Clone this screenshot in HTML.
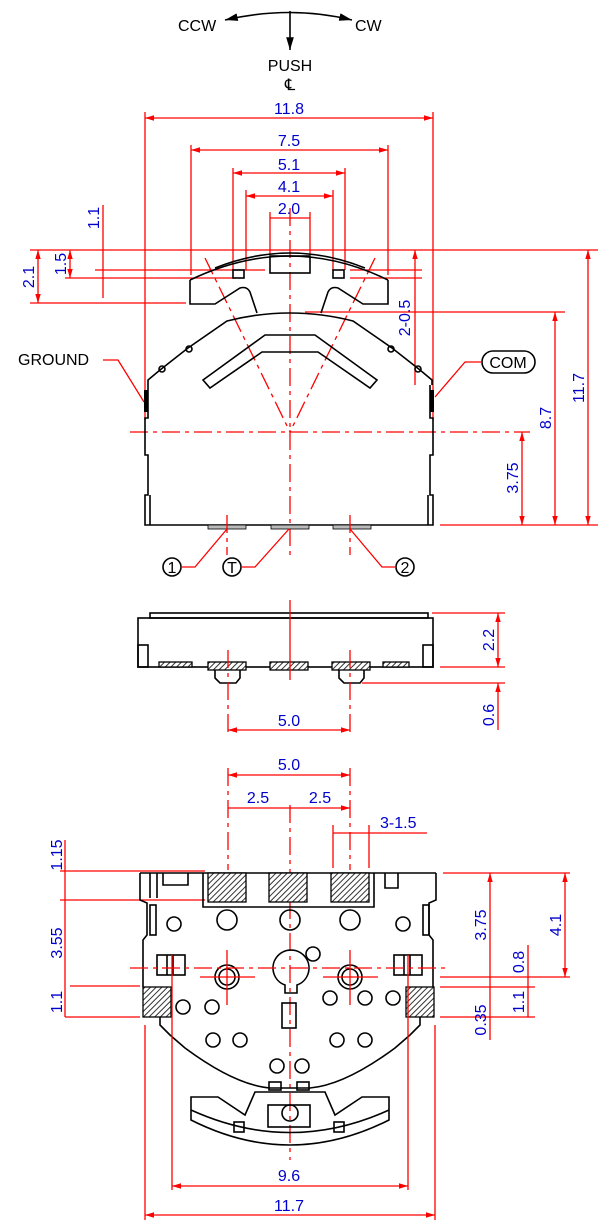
<!DOCTYPE html>
<html><head><meta charset="utf-8"><style>
html,body{margin:0;padding:0;background:#fff;}
svg{display:block;font-family:"Liberation Sans",sans-serif;}
.r{stroke:#f00;stroke-width:1.3;fill:none}
.rd{stroke:#f00;stroke-width:1.3;fill:none;stroke-dasharray:18 5 4 5}
.k{stroke:#000;stroke-width:1.6;fill:none}
.b{fill:#00c;font-size:16px}
.t{fill:#000;font-size:16px}
.h{fill:url(#hat);stroke:#000;stroke-width:1.3}
</style></head><body>
<svg width="600" height="1223" viewBox="0 0 600 1223" xmlns="http://www.w3.org/2000/svg">
<defs>
<pattern id="hat" width="4" height="4" patternUnits="userSpaceOnUse" patternTransform="rotate(45)"><rect width="4" height="4" fill="#fff"/><line x1="0" y1="0" x2="0" y2="4" stroke="#333" stroke-width="2"/></pattern>
<marker id="a" viewBox="0 0 10 10" refX="10" refY="5" markerWidth="7" markerHeight="7" orient="auto-start-reverse"><path d="M0,2L10,5L0,8z" fill="#f00"/></marker>
<marker id="ak" viewBox="0 0 10 10" refX="10" refY="5" markerWidth="8" markerHeight="8" orient="auto-start-reverse"><path d="M0,2L10,5L0,8z" fill="#000"/></marker>
</defs>

<path d="M225,20 Q290,5 352,20" class="k" marker-start="url(#ak)" marker-end="url(#ak)"/>
<line x1="290" y1="11" x2="290" y2="50" class="k" marker-end="url(#ak)"/>
<text x="178" y="31" class="t">CCW</text>
<text x="355" y="31" class="t">CW</text>
<text x="290" y="71" class="t" text-anchor="middle">PUSH</text>
<text x="290" y="90" class="t" text-anchor="middle">℄</text>

<text x="289" y="114" class="b" text-anchor="middle">11.8</text>
<line x1="145" y1="118" x2="433" y2="118" class="r" marker-start="url(#a)" marker-end="url(#a)"/>
<line x1="145" y1="112" x2="145" y2="420" class="r"/><line x1="433" y1="112" x2="433" y2="420" class="r"/>
<text x="289" y="146" class="b" text-anchor="middle">7.5</text>
<line x1="191" y1="150" x2="388" y2="150" class="r" marker-start="url(#a)" marker-end="url(#a)"/>
<line x1="191" y1="145" x2="191" y2="275" class="r"/><line x1="388" y1="145" x2="388" y2="275" class="r"/>
<text x="289" y="170" class="b" text-anchor="middle">5.1</text>
<line x1="233" y1="173" x2="345" y2="173" class="r" marker-start="url(#a)" marker-end="url(#a)"/>
<line x1="233" y1="168" x2="233" y2="270" class="r"/><line x1="345" y1="168" x2="345" y2="270" class="r"/>
<text x="289" y="192" class="b" text-anchor="middle">4.1</text>
<line x1="246" y1="196" x2="333" y2="196" class="r" marker-start="url(#a)" marker-end="url(#a)"/>
<line x1="246" y1="190" x2="246" y2="270" class="r"/><line x1="333" y1="190" x2="333" y2="270" class="r"/>
<text x="289" y="214" class="b" text-anchor="middle">2.0</text>
<line x1="270" y1="218" x2="310" y2="218" class="r"/>
<line x1="270" y1="212" x2="270" y2="255" class="r"/><line x1="310" y1="212" x2="310" y2="255" class="r"/>
<line x1="290" y1="208" x2="290" y2="560" class="rd"/>

<line x1="30" y1="250" x2="598" y2="250" class="r"/>
<line x1="95" y1="270" x2="265" y2="270" class="r"/><line x1="350" y1="270" x2="422" y2="270" class="r"/>
<line x1="65" y1="278" x2="235" y2="278" class="r"/><line x1="350" y1="278" x2="422" y2="278" class="r"/>
<line x1="30" y1="303" x2="186" y2="303" class="r"/>
<line x1="38" y1="250" x2="38" y2="303" class="r" marker-start="url(#a)" marker-end="url(#a)"/>
<text transform="translate(34,277) rotate(-90)" class="b" text-anchor="middle">2.1</text>
<line x1="70" y1="250" x2="70" y2="278" class="r" marker-start="url(#a)" marker-end="url(#a)"/>
<text transform="translate(66,264) rotate(-90)" class="b" text-anchor="middle">1.5</text>
<line x1="103" y1="205" x2="103" y2="298" class="r"/>
<text transform="translate(99,218) rotate(-90)" class="b" text-anchor="middle">1.1</text>
<line x1="415" y1="250" x2="415" y2="385" class="r" marker-start="url(#a)"/>
<text transform="translate(410,318) rotate(-90)" class="b" text-anchor="middle">2-0.5</text>
<line x1="305" y1="312" x2="565" y2="312" class="r"/>
<line x1="555" y1="312" x2="555" y2="525" class="r" marker-start="url(#a)" marker-end="url(#a)"/>
<text transform="translate(551,418) rotate(-90)" class="b" text-anchor="middle">8.7</text>
<line x1="588" y1="250" x2="588" y2="525" class="r" marker-start="url(#a)" marker-end="url(#a)"/>
<text transform="translate(584,388) rotate(-90)" class="b" text-anchor="middle">11.7</text>
<line x1="522" y1="432" x2="522" y2="525" class="r" marker-start="url(#a)" marker-end="url(#a)"/>
<text transform="translate(518,478) rotate(-90)" class="b" text-anchor="middle">3.75</text>
<line x1="440" y1="525" x2="598" y2="525" class="r"/>
<line x1="130" y1="432" x2="530" y2="432" class="rd"/>
<line x1="205" y1="258" x2="290" y2="432" class="rd"/><line x1="375" y1="258" x2="290" y2="432" class="rd"/>

<path d="M190,280 Q290,232 388,280" class="k"/>
<path d="M215,268 Q290,238 365,268" class="k"/>
<path d="M190,280 L190,304 L215,304 L240,288 Q247,286 250,292 L257,313" class="k"/>
<path d="M388,280 L388,304 L363,304 L338,288 Q331,286 328,292 L321,313" class="k"/>
<rect x="270" y="256" width="40" height="17" class="k"/>
<rect x="233" y="270" width="11" height="8" class="k"/><rect x="333" y="270" width="11" height="8" class="k"/>
<path d="M148,385 L148,380 L160,370 L188,348 L227,321 Q290,305 353,321 L392,348 L420,370 L432,380 L432,385" class="k"/>
<circle cx="189" cy="349" r="3" class="k"/><circle cx="162" cy="369" r="3" class="k"/>
<circle cx="391" cy="349" r="3" class="k"/><circle cx="418" cy="369" r="3" class="k"/>
<path d="M203,380 L265,335 L315,335 L377,380 L370,388 L318,352 L262,352 L210,388 Z" class="k"/>
<path d="M148,385 L148,418 L145,418 L145,455 L148,455 L148,495 L145,495 L145,525 L433,525 L433,495 L430,495 L430,455 L433,455 L433,418 L430,418 L430,385" class="k"/>
<rect x="144" y="390" width="4" height="22" fill="#000"/><rect x="430" y="390" width="4" height="22" fill="#000"/>
<line x1="150" y1="495" x2="150" y2="525" class="k"/><line x1="428" y1="495" x2="428" y2="525" class="k"/>
<rect x="208" y="525" width="38" height="4" fill="#bbb" stroke="#000" stroke-width="0.8"/>
<rect x="271" y="525" width="38" height="4" fill="#bbb" stroke="#000" stroke-width="0.8"/>
<rect x="333" y="525" width="38" height="4" fill="#bbb" stroke="#000" stroke-width="0.8"/>
<line x1="227" y1="515" x2="227" y2="555" class="rd"/><line x1="350" y1="515" x2="350" y2="555" class="rd"/>
<text x="18" y="365" class="t">GROUND</text>
<path d="M103,360 L118,360 L144,402" class="r"/>
<rect x="482" y="351" width="53" height="22" rx="11" class="k"/>
<text x="508" y="368" class="t" text-anchor="middle">COM</text>
<path d="M482,362 L465,362 L435,397" class="r"/>
<circle cx="172" cy="567" r="9" class="k"/><text x="172" y="573" class="t" text-anchor="middle" font-size="14">1</text>
<circle cx="232" cy="567" r="9" class="k"/><text x="232" y="573" class="t" text-anchor="middle" font-size="14">T</text>
<circle cx="405" cy="567" r="9" class="k"/><text x="405" y="573" class="t" text-anchor="middle" font-size="14">2</text>
<path d="M181,567 L195,567 L227,529" class="r"/>
<path d="M241,567 L255,567 L289,529" class="r"/>
<path d="M396,567 L382,567 L350,529" class="r"/>

<rect x="150" y="613" width="278" height="5" class="k"/>
<rect x="138" y="618" width="295" height="49" class="k"/>
<rect x="138" y="645" width="10" height="22" class="k"/><rect x="423" y="645" width="10" height="22" class="k"/>
<rect x="159" y="662" width="33" height="5" class="h"/>
<rect x="208" y="662" width="38" height="8" class="h"/>
<rect x="270" y="662" width="38" height="8" class="h"/>
<rect x="332" y="662" width="38" height="8" class="h"/>
<rect x="383" y="662" width="26" height="5" class="h"/>
<path d="M215,670 L215,678 L220,683 L236,683 L240,678 L240,670" class="k"/>
<path d="M339,670 L339,678 L344,683 L360,683 L364,678 L364,670" class="k"/>
<line x1="290" y1="600" x2="290" y2="680" class="r"/>
<line x1="228" y1="650" x2="228" y2="735" class="rd"/><line x1="350" y1="650" x2="350" y2="735" class="rd"/>
<text x="289" y="726" class="b" text-anchor="middle">5.0</text>
<line x1="228" y1="730" x2="350" y2="730" class="r" marker-start="url(#a)" marker-end="url(#a)"/>
<line x1="432" y1="613" x2="505" y2="613" class="r"/>
<line x1="440" y1="667" x2="505" y2="667" class="r"/>
<line x1="362" y1="683" x2="505" y2="683" class="r"/>
<line x1="498" y1="613" x2="498" y2="667" class="r" marker-start="url(#a)" marker-end="url(#a)"/>
<text transform="translate(494,640) rotate(-90)" class="b" text-anchor="middle">2.2</text>
<line x1="498" y1="683" x2="498" y2="730" class="r" marker-start="url(#a)"/>
<text transform="translate(494,715) rotate(-90)" class="b" text-anchor="middle">0.6</text>

<text x="289" y="770" class="b" text-anchor="middle">5.0</text>
<line x1="228" y1="775" x2="350" y2="775" class="r" marker-start="url(#a)" marker-end="url(#a)"/>
<line x1="228" y1="768" x2="228" y2="870" class="rd"/><line x1="350" y1="768" x2="350" y2="870" class="rd"/>
<text x="258" y="803" class="b" text-anchor="middle">2.5</text><text x="320" y="803" class="b" text-anchor="middle">2.5</text>
<line x1="228" y1="808" x2="350" y2="808" class="r" marker-end="url(#a)"/>
<line x1="290" y1="805" x2="290" y2="1160" class="rd"/>
<text x="380" y="828" class="b">3-1.5</text>
<line x1="333" y1="833" x2="427" y2="833" class="r"/>
<line x1="333" y1="825" x2="333" y2="868" class="r"/><line x1="369" y1="825" x2="369" y2="868" class="r"/>
<line x1="60" y1="871" x2="205" y2="871" class="r"/>
<line x1="60" y1="900" x2="205" y2="900" class="r"/>
<line x1="65" y1="840" x2="65" y2="1017" class="r"/>
<text transform="translate(62,855) rotate(-90)" class="b" text-anchor="middle">1.15</text>
<text transform="translate(62,943) rotate(-90)" class="b" text-anchor="middle">3.55</text>
<line x1="70" y1="986" x2="140" y2="986" class="r"/><line x1="65" y1="1017" x2="140" y2="1017" class="r"/>
<text transform="translate(62,1002) rotate(-90)" class="b" text-anchor="middle">1.1</text>
<line x1="443" y1="873" x2="570" y2="873" class="r"/>
<line x1="440" y1="977" x2="570" y2="977" class="r"/>
<line x1="440" y1="987" x2="535" y2="987" class="r"/>
<line x1="440" y1="1017" x2="535" y2="1017" class="r"/>
<line x1="490" y1="873" x2="490" y2="1040" class="r" marker-start="url(#a)"/>
<text transform="translate(486,925) rotate(-90)" class="b" text-anchor="middle">3.75</text>
<text transform="translate(486,1020) rotate(-90)" class="b" text-anchor="middle">0.35</text>
<line x1="565" y1="873" x2="565" y2="977" class="r" marker-start="url(#a)" marker-end="url(#a)"/>
<text transform="translate(561,925) rotate(-90)" class="b" text-anchor="middle">4.1</text>
<line x1="528" y1="945" x2="528" y2="1017" class="r"/>
<text transform="translate(524,962) rotate(-90)" class="b" text-anchor="middle">0.8</text>
<text transform="translate(524,1002) rotate(-90)" class="b" text-anchor="middle">1.1</text>

<path d="M140,873 L436,873" class="k"/>
<path d="M140,873 L140,900 L147,903 L147,935 L143,940 L143,987" class="k"/>
<path d="M436,873 L436,900 L429,903 L429,935 L433,940 L433,987" class="k"/>
<path d="M160,1017 L160,1025 L170,1035 L185,1048 Q235,1085 270,1088 L310,1088 Q345,1085 395,1048 L410,1035 L420,1025 L420,1017" class="k"/>
<path d="M150,873 L150,898 M157,873 L157,898 M163,873 L163,885 L188,885 L188,873 M398,873 L398,888 L385,888 L385,873 M203,873 L203,907 L374,907 L374,873" class="k"/>
<rect x="208" y="873" width="38" height="29" class="h"/>
<rect x="269" y="873" width="38" height="29" class="h"/>
<rect x="331" y="873" width="38" height="29" class="h"/>
<rect x="143" y="987" width="28" height="30" class="h"/>
<rect x="406" y="987" width="28" height="30" class="h"/>
<rect x="150" y="905" width="6" height="30" class="k"/><rect x="423" y="905" width="6" height="30" class="k"/>
<rect x="157" y="955" width="28" height="20" class="k"/><line x1="167" y1="955" x2="167" y2="975" class="k"/><line x1="173" y1="955" x2="173" y2="975" class="k"/>
<rect x="394" y="955" width="28" height="20" class="k"/><line x1="404" y1="955" x2="404" y2="975" class="k"/><line x1="410" y1="955" x2="410" y2="975" class="k"/>
<g class="k">
<circle cx="227" cy="920" r="10"/><circle cx="290" cy="920" r="10"/><circle cx="350" cy="920" r="10"/>
<circle cx="174" cy="924" r="7"/><circle cx="403" cy="924" r="7"/>
<circle cx="227" cy="977" r="12"/><circle cx="227" cy="977" r="8"/>
<circle cx="350" cy="977" r="12"/><circle cx="350" cy="977" r="8"/>
<path d="M285,985 A18,18 0 1 1 297,985 L297,993 L285,993 Z"/>
<rect x="282" y="1003" width="14" height="25"/>
<circle cx="313" cy="954" r="7"/>
<circle cx="183" cy="1007" r="7"/><circle cx="212" cy="1007" r="7"/>
<circle cx="330" cy="998" r="7"/><circle cx="365" cy="998" r="7"/><circle cx="393" cy="998" r="7"/>
<circle cx="213" cy="1040" r="7"/><circle cx="240" cy="1040" r="7"/>
<circle cx="337" cy="1040" r="7"/><circle cx="365" cy="1040" r="7"/>
<circle cx="277" cy="1066" r="7"/><circle cx="302" cy="1066" r="7"/>
<rect x="269" y="1082" width="12" height="8"/><rect x="297" y="1082" width="12" height="8"/>
<path d="M191,1097 L218,1097 L245,1115 L255,1092 L325,1092 L335,1115 L362,1097 L389,1097 L389,1120 Q290,1170 191,1120 Z"/>
<path d="M191,1110 Q290,1155 389,1110"/>
<rect x="268" y="1105" width="42" height="22"/>
<circle cx="290" cy="1113" r="8"/>
<rect x="234" y="1122" width="10" height="10"/><rect x="334" y="1122" width="10" height="10"/>
</g>
<line x1="130" y1="968" x2="450" y2="968" class="rd"/>
<line x1="200" y1="977" x2="255" y2="977" class="r"/><line x1="227" y1="950" x2="227" y2="1005" class="r"/>
<line x1="323" y1="977" x2="378" y2="977" class="r"/><line x1="350" y1="950" x2="350" y2="1005" class="r"/>
<line x1="172" y1="955" x2="172" y2="1190" class="r"/><line x1="408" y1="955" x2="408" y2="1190" class="r"/>
<line x1="145" y1="1025" x2="145" y2="1220" class="r"/><line x1="435" y1="1025" x2="435" y2="1220" class="r"/>
<text x="289" y="1181" class="b" text-anchor="middle">9.6</text>
<line x1="172" y1="1186" x2="408" y2="1186" class="r" marker-start="url(#a)" marker-end="url(#a)"/>
<text x="289" y="1211" class="b" text-anchor="middle">11.7</text>
<line x1="145" y1="1215" x2="435" y2="1215" class="r" marker-start="url(#a)" marker-end="url(#a)"/>
</svg>
</body></html>
